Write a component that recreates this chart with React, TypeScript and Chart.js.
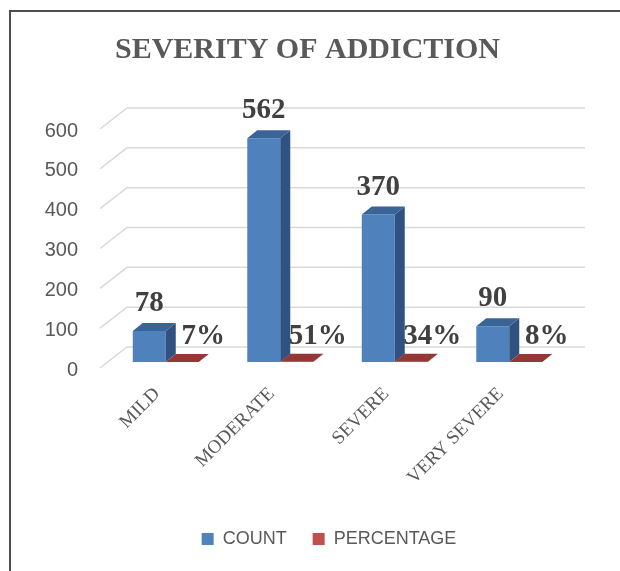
import { useEffect, useRef } from 'react';
import { Chart, registerables } from 'chart.js';

Chart.register(...registerables);

const CATEGORIES = ['MILD', 'MODERATE', 'SEVERE', 'VERY SEVERE'];
const COUNT = [78, 562, 370, 90];
const PERCENTAGE = [0.07, 0.51, 0.34, 0.08];
const SERIES = ['COUNT', 'PERCENTAGE'];
const TITLE = 'SEVERITY OF ADDICTION';
const Y_MIN = 0;
const Y_MAX = 600;
const Y_STEP = 100;

const FRONT_COLORS = ['#4F81BD', '#C0504D'];
const SIDE_COLORS = ['#2F5280', '#7A2A28'];
const TOP_COLORS = ['#3A6398', '#953735'];

// 3D projection offsets (pixels)
const GDX = 27; // wall depth
const GDY = -21;
const OX = 8.5; // bar front plane offset from front of floor
const OY = -6;
const DX = 10; // bar depth
const DY = -8;

const formatLabel = (di: number, v: number) => (di === 0 ? String(v) : Math.round(v * 100) + '%');

const depthPlugin = {
  id: 'depth3d',
  beforeDraw(chart: any) {
    const { ctx } = chart;
    ctx.save();
    ctx.strokeStyle = '#4D4D4D';
    ctx.lineWidth = 2;
    ctx.beginPath();
    ctx.moveTo(2, chart.height);
    ctx.lineTo(2, 3);
    ctx.lineTo(chart.width, 3);
    ctx.stroke();
    ctx.restore();
  },
  beforeDatasetsDraw(chart: any) {
    const { ctx, chartArea: a, scales } = chart;
    const ys = scales.y;
    ctx.save();
    ctx.strokeStyle = '#D9D9D9';
    ctx.lineWidth = 1.5;
    ys.ticks.forEach((t: any) => {
      const py = ys.getPixelForValue(t.value);
      ctx.beginPath();
      ctx.moveTo(a.left, py);
      ctx.lineTo(a.left + GDX, py + GDY);
      ctx.lineTo(a.right + GDX, py + GDY);
      ctx.stroke();
    });
    ctx.restore();
    ctx.save();
    ctx.translate(OX, OY);
  },
  afterDatasetsDraw(chart: any) {
    const { ctx } = chart;
    ctx.restore();
    ctx.save();
    chart.data.datasets.forEach((ds: any, di: number) => {
      const meta = chart.getDatasetMeta(di);
      meta.data.forEach((el: any) => {
        const p = el.getProps(['x', 'y', 'base', 'width'], true);
        const L = p.x - p.width / 2 + OX;
        const R = p.x + p.width / 2 + OX;
        const T = Math.min(p.y, p.base) + OY;
        const B = Math.max(p.y, p.base) + OY;
        ctx.fillStyle = SIDE_COLORS[di];
        ctx.beginPath();
        ctx.moveTo(R, T);
        ctx.lineTo(R + DX, T + DY);
        ctx.lineTo(R + DX, B + DY);
        ctx.lineTo(R, B);
        ctx.closePath();
        ctx.fill();
        ctx.fillStyle = TOP_COLORS[di];
        ctx.beginPath();
        ctx.moveTo(L, T);
        ctx.lineTo(L + DX, T + DY);
        ctx.lineTo(R + DX, T + DY);
        ctx.lineTo(R, T);
        ctx.closePath();
        ctx.fill();
      });
    });
    ctx.font = 'bold 29px "Liberation Serif"';
    ctx.fillStyle = '#404040';
    ctx.textAlign = 'center';
    ctx.textBaseline = 'alphabetic';
    chart.data.datasets.forEach((ds: any, di: number) => {
      const meta = chart.getDatasetMeta(di);
      meta.data.forEach((el: any, i: number) => {
        const p = el.getProps(['x', 'y', 'base'], true);
        const text = formatLabel(di, ds.data[i]);
        if (di === 0) {
          ctx.fillText(text, p.x + OX, Math.min(p.y, p.base) + OY + DY - 12);
        } else {
          ctx.fillText(text, p.x + OX + 21, p.base + OY - 18);
        }
      });
    });
    ctx.restore();
  },
};

export default function App() {
  const ref = useRef<HTMLCanvasElement>(null);
  useEffect(() => {
    const chart = new Chart(ref.current as HTMLCanvasElement, {
      type: 'bar',
      data: {
        labels: CATEGORIES,
        datasets: [
          {
            label: SERIES[0],
            data: COUNT,
            backgroundColor: FRONT_COLORS[0],
            borderWidth: 0,
            categoryPercentage: 0.576,
            barPercentage: 1,
          },
          {
            label: SERIES[1],
            data: PERCENTAGE,
            backgroundColor: FRONT_COLORS[1],
            borderWidth: 0,
            categoryPercentage: 0.576,
            barPercentage: 1,
          },
        ],
      },
      options: {
        responsive: false,
        animation: false,
        devicePixelRatio: 1,
        layout: { padding: { top: 2, left: 0, right: 13, bottom: 13 } },
        plugins: {
          title: {
            display: true,
            text: TITLE,
            color: '#595959',
            font: { family: 'Liberation Serif', size: 30, weight: 'bold' },
            padding: { top: 22, bottom: 61 },
          },
          legend: {
            position: 'bottom',
            fullSize: false,
            labels: {
              color: '#595959',
              font: { family: 'Liberation Sans', size: 18 },
              boxWidth: 12,
              boxHeight: 12,
              padding: 26,
            },
          },
          tooltip: { enabled: false },
        },
        scales: {
          x: {
            grid: { display: false, drawTicks: false },
            border: { display: false },
            ticks: {
              font: { family: 'Liberation Serif', size: 19 },
              color: '#595959',
              maxRotation: 45,
              minRotation: 45,
              autoSkip: false,
              padding: 15,
            },
            afterFit: (s: any) => {
              s.height = 136;
            },
          },
          y: {
            min: Y_MIN,
            max: Y_MAX,
            ticks: {
              stepSize: Y_STEP,
              font: { family: 'Liberation Sans', size: 20 },
              color: '#595959',
              padding: 22,
              labelOffset: 2,
            },
            grid: { display: false, drawTicks: false },
            border: { display: false },
            afterFit: (s: any) => {
              s.width = 92;
            },
          },
          y2: {
            position: 'right',
            display: true,
            grid: { display: false, drawTicks: false },
            border: { display: false },
            ticks: { display: false },
            afterFit: (s: any) => {
              s.width = 49;
            },
          },
        },
      },
      plugins: [depthPlugin],
    });
    return () => chart.destroy();
  }, []);
  return (
    <canvas
      ref={ref}
      width={612}
      height={563}
      style={{ display: 'block', position: 'fixed', left: 8, top: 8 }}
    />
  );
}
